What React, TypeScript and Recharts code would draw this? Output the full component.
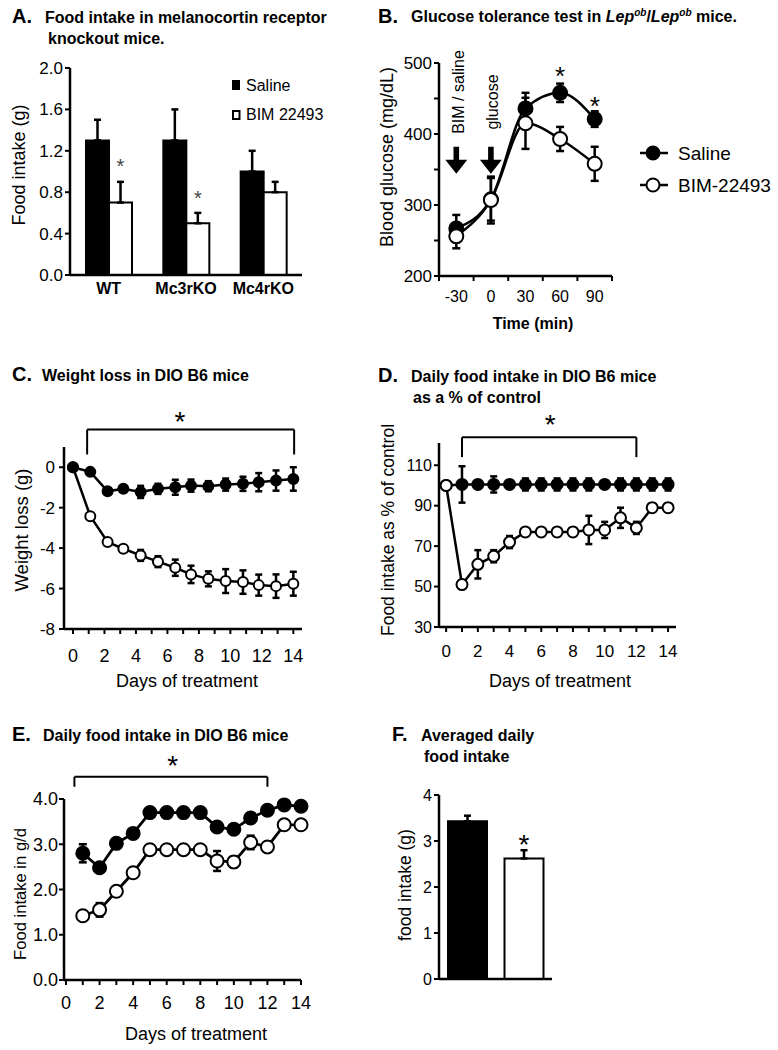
import React from 'react';
import {
  BarChart, Bar, Cell, ComposedChart, Line, XAxis, YAxis, ErrorBar, LabelList, ReferenceLine, ReferenceDot,
} from 'recharts';

const FONT = '"Liberation Sans", Arial, Helvetica, sans-serif';
const INK = '#000';

// A. food intake in receptor knockouts
const groupsA = ['WT', 'Mc3rKO', 'Mc4rKO'];
const salineA = [1.3, 1.3, 1.0];
const salineErrA = [0.2, 0.3, 0.2];
const bimA = [0.7, 0.5, 0.8];
const bimErrA = [0.2, 0.1, 0.1];
const starsA = ['*', '*', ''];
const yTicksA = [0, 0.4, 0.8, 1.2, 1.6, 2.0];

// B. glucose tolerance test
const timeB = [-30, 0, 30, 60, 90];
const salineB = [267, 308, 436, 458, 421];
const salineErrB = [19, 30, 22, 13, 11];
const bimB = [256, 307, 415, 393, 358];
const bimErrB = [17, 33, 36, 17, 24];
const xTicksB = [-45, -30, -15, 0, 15, 30, 45, 60, 75, 90, 105];
const minorTicksB = [-45, -15, 15, 45, 75, 105];
const yTicksB = [200, 250, 300, 350, 400, 450, 500];
const starTimeB = [60, 90];
const starLevelB = [490, 448];
const arrowTimeB = [-30, 0];
const arrowLevelB = 363;

// C. weight loss
const daysC = [0, 1.1, 2.2, 3.2, 4.3, 5.4, 6.5, 7.5, 8.6, 9.7, 10.8, 11.8, 12.9, 14];
const salineC = [0, -0.23, -1.19, -1.07, -1.22, -1.07, -0.99, -0.91, -0.94, -0.86, -0.82, -0.74, -0.66, -0.58];
const salineErrC = [0, 0.1, 0.1, 0.15, 0.3, 0.25, 0.37, 0.3, 0.25, 0.3, 0.35, 0.45, 0.5, 0.58];
const bimC = [0, -2.42, -3.7, -4.03, -4.36, -4.67, -4.97, -5.3, -5.52, -5.63, -5.68, -5.83, -5.88, -5.76];
const bimErrC = [0, 0.1, 0.1, 0.15, 0.27, 0.27, 0.4, 0.43, 0.37, 0.59, 0.58, 0.52, 0.58, 0.59];
const xTicksC = [0, 1, 2, 3, 4, 5, 6, 7, 8, 9, 10, 11, 12, 13, 14];
const yTicksC = [-8, -6, -4, -2, 0];
const bracketDaysC = [0.9, 14.05];
const bracketLevelsC = [1.86, 0.63];
const starC = [6.8, 2.6];

// D. daily intake as % of control
const daysD = [0, 1, 2, 3, 4, 5, 6, 7, 8, 9, 10, 11, 12, 13, 14];
const salineD = [100, 100.5, 100.5, 100.5, 100.5, 100.5, 100.5, 100.5, 100.5, 100.5, 100.5, 100.5, 100.5, 100.5, 100.5];
const salineErrD = [0, 9, 1.5, 4, 2, 3, 3, 3, 3, 3, 1.5, 3, 3, 3, 3];
const bimD = [100, 51, 61, 65, 72, 77, 77, 77, 77, 78, 78, 84, 79, 89, 89];
const bimErrD = [0, 2, 7, 3, 3, 2, 2, 2, 2, 7, 4, 5, 3, 2, 2];
const xTicksD = [0, 1, 2, 3, 4, 5, 6, 7, 8, 9, 10, 11, 12, 13, 14];
const yTicksD = [30, 50, 70, 90, 110];
const bracketDaysD = [1, 12];
const bracketLevelsD = [123.8, 114];
const starD = [6.56, 133.7];

// E. daily intake in g/d
const daysE = [1, 2, 3, 4, 5, 6, 7, 8, 9, 10, 11, 12, 13, 14];
const salineE = [2.8, 2.48, 3.02, 3.24, 3.7, 3.7, 3.7, 3.7, 3.38, 3.33, 3.58, 3.75, 3.87, 3.84];
const salineErrE = [0.2, 0.05, 0.05, 0.05, 0.08, 0.05, 0.05, 0.05, 0.1, 0.05, 0.05, 0.1, 0.05, 0.05];
const bimE = [1.42, 1.55, 1.96, 2.37, 2.88, 2.88, 2.88, 2.88, 2.63, 2.61, 3.04, 2.94, 3.43, 3.43];
const bimErrE = [0.05, 0.15, 0.05, 0.05, 0.05, 0.05, 0.05, 0.05, 0.22, 0.12, 0.15, 0.05, 0.05, 0.05];
const xTicksE = [0, 1, 2, 3, 4, 5, 6, 7, 8, 9, 10, 11, 12, 13, 14];
const yTicksE = [0, 1, 2, 3, 4];
const bracketDaysE = [0.5, 12];
const bracketLevelsE = [4.49, 4.27];
const starE = [6.35, 4.89];

// F. averaged daily intake
const groupsF = ['Saline', 'BIM-22493'];
const valuesF = [3.43, 2.62];
const errF = [0.12, 0.18];
const starsF = ['', '*'];
const yTicksF = [0, 1, 2, 3, 4];

const rowsA = groupsA.map((g, i) => ({ group: g, sal: salineA[i], salErr: [0, salineErrA[i]], bim: bimA[i], bimErr: [0, bimErrA[i]], star: starsA[i] }));
const rowsB = timeB.map((t, i) => ({ t, sal: salineB[i], salErr: salineErrB[i], bim: bimB[i], bimErr: bimErrB[i] }));
const rowsC = daysC.map((d, i) => ({ d, sal: salineC[i], salErr: salineErrC[i], bim: bimC[i], bimErr: bimErrC[i] }));
const rowsD = daysD.map((d, i) => ({ d, sal: salineD[i], salErr: salineErrD[i], bim: bimD[i], bimErr: bimErrD[i] }));
const rowsE = daysE.map((d, i) => ({ d, sal: salineE[i], salErr: salineErrE[i], bim: bimE[i], bimErr: bimErrE[i] }));
const rowsF = groupsF.map((g, i) => ({ group: g, v: valuesF[i], err: [0, errF[i]], star: starsF[i] }));

const YW = 60, PT = 60, PR = 14, XH = 44;
const frame = (L: number, T: number, R: number, B: number) => ({
  box: { position: 'absolute' as const, left: L - YW, top: T - PT },
  width: R - L + YW + PR,
  height: B - T + PT + XH,
  margin: { top: PT, right: PR, bottom: 0, left: 0 },
});

const axisLine = { stroke: INK, strokeWidth: 2.5 };
const tickLine = { stroke: INK, strokeWidth: 2 };
const tickText = (fontSize: number, fontWeight = 'normal') => ({ fill: INK, fontSize, fontFamily: FONT, fontWeight });

const starShape = (size: number) => (p: any) => (
  <text x={p.cx} y={p.cy + size * 0.58} textAnchor="middle" fontSize={size} fontFamily={FONT} fill={INK}>*</text>
);

const barStar = (vals: number[], errs: number[], gap: number, size: number, color: string) => (p: any) => {
  if (!p.value) return null;
  const vb = p.viewBox ?? p;
  const h = Math.abs(vb.height);
  const top = Math.min(vb.y, vb.y + vb.height);
  const cy = top - (errs[p.index] * h) / vals[p.index] - gap;
  return (
    <text x={vb.x + vb.width / 2} y={cy + size * 0.58} textAnchor="middle" fontSize={size} fontFamily={FONT} fill={color}>*</text>
  );
};

const arrowShape = (p: any) => {
  const { cx, cy } = p;
  const h = 27, hh = 14, hw = 11, sw = 2.8;
  const top = cy - h / 2, neck = cy + h / 2 - hh, tip = cy + h / 2;
  return (
    <path
      d={`M${cx - sw},${top} L${cx + sw},${top} L${cx + sw},${neck} L${cx + hw},${neck} L${cx},${tip} L${cx - hw},${neck} L${cx - sw},${neck} Z`}
      fill={INK}
    />
  );
};

const TimeTick = (p: any) => {
  const v = p.payload.value;
  if (minorTicksB.includes(v)) return <line x1={p.x} x2={p.x} y1={p.y} y2={p.y + 5} stroke={INK} strokeWidth={2} />;
  return <text x={p.x} y={p.y + 26} textAnchor="middle" fontSize={16} fontFamily={FONT} fill={INK}>{v}</text>;
};

const dotFilled = (r: number) => ({ r, fill: INK, stroke: INK, strokeWidth: 2 });
const dotOpen = (r: number) => ({ r, fill: '#fff', stroke: INK, strokeWidth: 2 });

const bracketLines = (days: number[], levels: number[]) => [
  <ReferenceLine key="h" segment={[{ x: days[0], y: levels[0] }, { x: days[1], y: levels[0] }]} stroke={INK} strokeWidth={2} ifOverflow="visible" />,
  <ReferenceLine key="l" segment={[{ x: days[0], y: levels[0] }, { x: days[0], y: levels[1] }]} stroke={INK} strokeWidth={2} ifOverflow="visible" />,
  <ReferenceLine key="r" segment={[{ x: days[1], y: levels[0] }, { x: days[1], y: levels[1] }]} stroke={INK} strokeWidth={2} ifOverflow="visible" />,
];

const PanelA = () => {
  const f = frame(70, 68, 302, 275);
  return (
    <div style={f.box}>
      <BarChart width={f.width} height={f.height} data={rowsA} margin={f.margin} barGap={0} barSize={23}>
        <XAxis dataKey="group" height={XH} axisLine={axisLine} tickLine={false} tickSize={0} tickMargin={8} tick={tickText(16, 'bold')} interval={0} />
        <YAxis width={YW} type="number" domain={[0, 2]} ticks={yTicksA} axisLine={axisLine} tickLine={tickLine} tickSize={5} tickMargin={2} tick={tickText(17)} tickFormatter={(v: number) => v.toFixed(1)} interval={0} />
        <Bar dataKey="sal" fill={INK} stroke={INK} strokeWidth={2} isAnimationActive={false}>
          <ErrorBar dataKey="salErr" width={3.5} stroke={INK} strokeWidth={2.5} direction="y" />
        </Bar>
        <Bar dataKey="bim" fill="#fff" stroke={INK} strokeWidth={2} isAnimationActive={false}>
          <ErrorBar dataKey="bimErr" width={3.5} stroke={INK} strokeWidth={2.5} direction="y" />
          <LabelList dataKey="star" content={barStar(bimA, bimErrA, 20, 20, '#444')} />
        </Bar>
      </BarChart>
    </div>
  );
};

const PanelB = () => {
  const f = frame(439, 63, 612, 276);
  return (
    <div style={f.box}>
      <ComposedChart width={f.width} height={f.height} data={rowsB} margin={f.margin}>
        <XAxis dataKey="t" type="number" domain={[-45, 105]} ticks={xTicksB} height={XH} axisLine={axisLine} tickLine={false} tickSize={0} tickMargin={0} tick={<TimeTick />} interval={0} />
        <YAxis width={YW} type="number" domain={[200, 500]} ticks={yTicksB} axisLine={axisLine} tickLine={tickLine} tickSize={5} tickMargin={2} tick={tickText(17)} tickFormatter={(v: number) => (v % 100 === 0 ? String(v) : '')} interval={0} />
        <Line type="monotone" dataKey="sal" stroke={INK} strokeWidth={2.5} dot={dotFilled(7)} activeDot={false} isAnimationActive={false}>
          <ErrorBar dataKey="salErr" width={4} stroke={INK} strokeWidth={2.5} direction="y" />
        </Line>
        <Line type="monotone" dataKey="bim" stroke={INK} strokeWidth={2.5} dot={dotOpen(7)} activeDot={false} isAnimationActive={false}>
          <ErrorBar dataKey="bimErr" width={4} stroke={INK} strokeWidth={2.5} direction="y" />
        </Line>
        {starTimeB.map((t, i) => (
          <ReferenceDot key={`s${t}`} x={t} y={starLevelB[i]} r={0} shape={starShape(26)} ifOverflow="visible" />
        ))}
        {arrowTimeB.map((t) => (
          <ReferenceDot key={`a${t}`} x={t} y={arrowLevelB} r={0} shape={arrowShape} ifOverflow="visible" />
        ))}
      </ComposedChart>
    </div>
  );
};

const PanelC = () => {
  const f = frame(64, 447, 302, 629);
  return (
    <div style={f.box}>
      <ComposedChart width={f.width} height={f.height} data={rowsC} margin={f.margin}>
        <XAxis dataKey="d" type="number" domain={[-0.57, 14.55]} ticks={xTicksC} height={XH} axisLine={axisLine} tickLine={tickLine} tickSize={5} tickMargin={15} tick={tickText(18)} tickFormatter={(v: number) => (v % 2 === 0 ? String(v) : '')} interval={0} />
        <YAxis width={YW} type="number" domain={[-8, 1]} ticks={yTicksC} axisLine={axisLine} tickLine={tickLine} tickSize={5} tickMargin={4} tick={tickText(17)} interval={0} />
        <Line dataKey="bim" stroke={INK} strokeWidth={2.5} dot={dotOpen(5)} activeDot={false} isAnimationActive={false}>
          <ErrorBar dataKey="bimErr" width={3.5} stroke={INK} strokeWidth={2.5} direction="y" />
        </Line>
        <Line dataKey="sal" stroke={INK} strokeWidth={2.5} dot={dotFilled(5)} activeDot={false} isAnimationActive={false}>
          <ErrorBar dataKey="salErr" width={3.5} stroke={INK} strokeWidth={2.5} direction="y" />
        </Line>
        {bracketLines(bracketDaysC, bracketLevelsC)}
        <ReferenceDot x={starC[0]} y={starC[1]} r={0} shape={starShape(28)} ifOverflow="visible" />
      </ComposedChart>
    </div>
  );
};

const PanelD = () => {
  const f = frame(439, 443, 676, 627);
  return (
    <div style={f.box}>
      <ComposedChart width={f.width} height={f.height} data={rowsD} margin={f.margin}>
        <XAxis dataKey="d" type="number" domain={[-0.45, 14.5]} ticks={xTicksD} height={XH} axisLine={axisLine} tickLine={tickLine} tickSize={5} tickMargin={13} tick={tickText(17)} tickFormatter={(v: number) => (v % 2 === 0 ? String(v) : '')} interval={0} />
        <YAxis width={YW} type="number" domain={[30, 121]} ticks={yTicksD} axisLine={axisLine} tickLine={tickLine} tickSize={5} tickMargin={2} tick={tickText(16)} interval={0} />
        <Line dataKey="sal" stroke={INK} strokeWidth={2.5} dot={dotFilled(5.5)} activeDot={false} isAnimationActive={false}>
          <ErrorBar dataKey="salErr" width={3.5} stroke={INK} strokeWidth={2.5} direction="y" />
        </Line>
        <Line dataKey="bim" stroke={INK} strokeWidth={2.5} dot={dotOpen(5.5)} activeDot={false} isAnimationActive={false}>
          <ErrorBar dataKey="bimErr" width={3.5} stroke={INK} strokeWidth={2.5} direction="y" />
        </Line>
        {bracketLines(bracketDaysD, bracketLevelsD)}
        <ReferenceDot x={starD[0]} y={starD[1]} r={0} shape={starShape(28)} ifOverflow="visible" />
      </ComposedChart>
    </div>
  );
};

const PanelE = () => {
  const f = frame(64, 799, 301, 980);
  return (
    <div style={f.box}>
      <ComposedChart width={f.width} height={f.height} data={rowsE} margin={f.margin}>
        <XAxis dataKey="d" type="number" domain={[-0.12, 14]} ticks={xTicksE} height={XH} axisLine={axisLine} tickLine={tickLine} tickSize={5} tickMargin={11} tick={tickText(18)} tickFormatter={(v: number) => (v % 2 === 0 ? String(v) : '')} interval={0} />
        <YAxis width={YW} type="number" domain={[0, 4]} ticks={yTicksE} axisLine={axisLine} tickLine={tickLine} tickSize={5} tickMargin={1} tick={tickText(18)} tickFormatter={(v: number) => v.toFixed(1)} interval={0} />
        <Line dataKey="sal" stroke={INK} strokeWidth={2.8} dot={dotFilled(6.5)} activeDot={false} isAnimationActive={false}>
          <ErrorBar dataKey="salErr" width={4} stroke={INK} strokeWidth={2.5} direction="y" />
        </Line>
        <Line dataKey="bim" stroke={INK} strokeWidth={2.8} dot={dotOpen(6.5)} activeDot={false} isAnimationActive={false}>
          <ErrorBar dataKey="bimErr" width={4} stroke={INK} strokeWidth={2.5} direction="y" />
        </Line>
        {bracketLines(bracketDaysE, bracketLevelsE)}
        <ReferenceDot x={starE[0]} y={starE[1]} r={0} shape={starShape(28)} ifOverflow="visible" />
      </ComposedChart>
    </div>
  );
};

const PanelF = () => {
  const f = frame(439, 795, 552, 979);
  return (
    <div style={f.box}>
      <BarChart width={f.width} height={f.height} data={rowsF} margin={f.margin} barSize={39}>
        <XAxis dataKey="group" height={XH} axisLine={axisLine} tickLine={false} tick={false} />
        <YAxis width={YW} type="number" domain={[0, 4]} ticks={yTicksF} axisLine={axisLine} tickLine={tickLine} tickSize={5} tickMargin={2} tick={tickText(16)} interval={0} />
        <Bar dataKey="v" stroke={INK} strokeWidth={2} isAnimationActive={false}>
          {rowsF.map((r, i) => (
            <Cell key={r.group} fill={i === 0 ? INK : '#fff'} />
          ))}
          <ErrorBar dataKey="err" width={3.5} stroke={INK} strokeWidth={2.5} direction="y" />
          <LabelList dataKey="star" content={barStar(valuesF, errF, 12, 28, INK)} />
        </Bar>
      </BarChart>
    </div>
  );
};

const Txt = ({ x, y, s, b, a, children }: any) => (
  <text x={x} y={y} fontSize={s} fontWeight={b ? 'bold' : 'normal'} textAnchor={a || 'start'} fontFamily={FONT} fill={INK}>{children}</text>
);
const VTxt = ({ x, y, s, children }: any) => (
  <text transform={`translate(${x},${y}) rotate(-90)`} fontSize={s} textAnchor="middle" dominantBaseline="central" fontFamily={FONT} fill={INK}>{children}</text>
);

const Overlay = () => (
  <svg width={778} height={1050} style={{ position: 'absolute', left: 0, top: 0, pointerEvents: 'none' }}>
    {/* titles */}
    <Txt x={12} y={23} s={20} b>A.</Txt>
    <Txt x={45} y={23} s={16} b>Food intake in melanocortin receptor</Txt>
    <Txt x={48} y={44} s={16} b>knockout mice.</Txt>
    <Txt x={378} y={23} s={20} b>B.</Txt>
    <text x={411} y={22} fontSize={16} fontWeight="bold" fontFamily={FONT} fill={INK}>
      Glucose tolerance test in <tspan fontStyle="italic">Lep</tspan><tspan fontStyle="italic" fontSize={10} dy={-6}>ob</tspan><tspan dy={6}>/</tspan><tspan fontStyle="italic">Lep</tspan><tspan fontStyle="italic" fontSize={10} dy={-6}>ob</tspan><tspan dy={6}> mice.</tspan>
    </text>
    <Txt x={12} y={381} s={20} b>C.</Txt>
    <Txt x={42} y={381} s={16} b>Weight loss in DIO B6 mice</Txt>
    <Txt x={378} y={382} s={20} b>D.</Txt>
    <Txt x={411} y={382} s={16} b>Daily food intake in DIO B6 mice</Txt>
    <Txt x={413} y={403} s={16} b>as a % of control</Txt>
    <Txt x={12} y={741} s={20} b>E.</Txt>
    <Txt x={43} y={741} s={16} b>Daily food intake in DIO B6 mice</Txt>
    <Txt x={392} y={741} s={20} b>F.</Txt>
    <Txt x={421} y={741} s={16} b>Averaged daily</Txt>
    <Txt x={424} y={762} s={16} b>food intake</Txt>

    {/* axis titles */}
    <VTxt x={19} y={165} s={18}>Food intake (g)</VTxt>
    <VTxt x={387} y={157} s={18}>Blood glucose (mg/dL)</VTxt>
    <Txt x={533} y={329} s={16} b a="middle">Time (min)</Txt>
    <VTxt x={21} y={530} s={18.5}>Weight loss (g)</VTxt>
    <Txt x={187} y={687} s={18} a="middle">Days of treatment</Txt>
    <VTxt x={388} y={530} s={17.5}>Food intake as % of control</VTxt>
    <Txt x={560} y={687} s={18} a="middle">Days of treatment</Txt>
    <VTxt x={20} y={894} s={16.6}>Food intake in g/d</VTxt>
    <Txt x={196} y={1040} s={18} a="middle">Days of treatment</Txt>
    <VTxt x={405} y={885} s={17.5}>food intake (g)</VTxt>

    {/* B annotations */}
    <VTxt x={458} y={92} s={16}>BIM / saline</VTxt>
    <VTxt x={492} y={102} s={16}>glucose</VTxt>

    {/* legend A */}
    <rect x={232} y={80} width={8} height={10} fill={INK} />
    <Txt x={246} y={91} s={16}>Saline</Txt>
    <rect x={233} y={111} width={6.5} height={8} fill="#fff" stroke={INK} strokeWidth={2} />
    <Txt x={246} y={120} s={16}>BIM 22493</Txt>

    {/* legend B */}
    <line x1={640} x2={668} y1={153} y2={153} stroke={INK} strokeWidth={2.5} />
    <circle cx={653} cy={153} r={6.5} fill={INK} stroke={INK} strokeWidth={2} />
    <Txt x={678} y={160} s={19}>Saline</Txt>
    <line x1={640} x2={668} y1={185} y2={185} stroke={INK} strokeWidth={2.5} />
    <circle cx={653} cy={185} r={6.5} fill="#fff" stroke={INK} strokeWidth={2} />
    <Txt x={678} y={192} s={19}>BIM-22493</Txt>
  </svg>
);

const App = () => (
  <div style={{ position: 'absolute', left: 0, top: 0, width: 778, height: 1050, background: '#fff', fontFamily: FONT }}>
    <PanelA />
    <PanelB />
    <PanelC />
    <PanelD />
    <PanelE />
    <PanelF />
    <Overlay />
  </div>
);

export default App;
